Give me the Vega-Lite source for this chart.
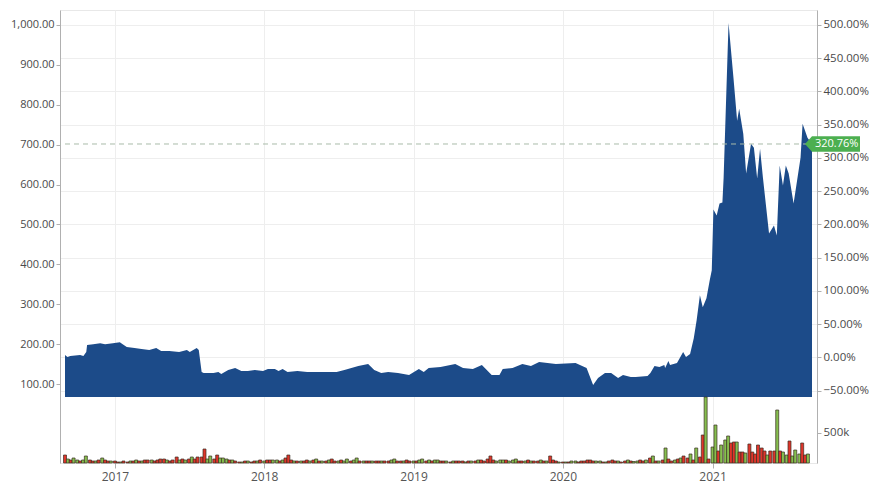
{
  "$schema": "https://vega.github.io/schema/vega-lite/v6.json",
  "width": 757,
  "height": 453,
  "autosize": {"type": "none"},
  "padding": {"left": 60, "top": 10, "right": 63, "bottom": 34},
  "background": "white",
  "config": {
    "axis": {"labelFont": "Open Sans", "labelColor": "#4a4a4a", "labelFontSize": 11, "domainColor": "#b0b0b0", "tickColor": "#b0b0b0", "gridColor": "#eeeeee", "tickSize": 4, "labelPadding": 2, "title": null},
    "view": {"stroke": "#e8e8e8"}
  },
  "datasets": {
    "prices": [
      {"date":"2016-09-01","price":172.5},{"date":"2016-09-07","price":167.5},{"date":"2016-09-14","price":170},{"date":"2016-10-08","price":172.5},{"date":"2016-10-16","price":170},{"date":"2016-10-23","price":180},{"date":"2016-10-25","price":197.5},{"date":"2016-11-09","price":200},{"date":"2016-11-26","price":202.5},{"date":"2016-12-08","price":200},{"date":"2016-12-27","price":202.5},{"date":"2017-01-13","price":205},{"date":"2017-01-20","price":200},{"date":"2017-01-30","price":192.5},{"date":"2017-02-18","price":190},{"date":"2017-03-07","price":187.5},{"date":"2017-03-26","price":185},{"date":"2017-04-12","price":190},{"date":"2017-04-24","price":182.5},{"date":"2017-05-14","price":182.5},{"date":"2017-06-07","price":180},{"date":"2017-06-26","price":185},{"date":"2017-07-03","price":180},{"date":"2017-07-20","price":190},{"date":"2017-07-25","price":185},{"date":"2017-08-01","price":130},{"date":"2017-08-06","price":127.5},{"date":"2017-08-30","price":127.5},{"date":"2017-09-11","price":130},{"date":"2017-09-18","price":125},{"date":"2017-10-05","price":135},{"date":"2017-10-22","price":140},{"date":"2017-11-06","price":132.5},{"date":"2017-11-22","price":132.5},{"date":"2017-12-09","price":135},{"date":"2017-12-29","price":132.5},{"date":"2018-01-10","price":137.5},{"date":"2018-01-27","price":137.5},{"date":"2018-02-05","price":132.5},{"date":"2018-02-15","price":137.5},{"date":"2018-02-27","price":130},{"date":"2018-03-23","price":132.5},{"date":"2018-04-16","price":130},{"date":"2018-05-10","price":130},{"date":"2018-06-03","price":130},{"date":"2018-06-27","price":130},{"date":"2018-07-16","price":135},{"date":"2018-08-02","price":140},{"date":"2018-08-19","price":145},{"date":"2018-09-12","price":150},{"date":"2018-09-27","price":135},{"date":"2018-10-14","price":127.5},{"date":"2018-10-31","price":130},{"date":"2018-11-24","price":127.5},{"date":"2018-12-21","price":122.5},{"date":"2019-01-14","price":137.5},{"date":"2019-01-26","price":130},{"date":"2019-02-07","price":140},{"date":"2019-03-08","price":142.5},{"date":"2019-04-13","price":150},{"date":"2019-05-02","price":140},{"date":"2019-05-26","price":137.5},{"date":"2019-06-17","price":147.5},{"date":"2019-06-29","price":135},{"date":"2019-07-11","price":122.5},{"date":"2019-07-30","price":122.5},{"date":"2019-08-07","price":137.5},{"date":"2019-08-31","price":140},{"date":"2019-09-24","price":150},{"date":"2019-10-15","price":145},{"date":"2019-11-04","price":155},{"date":"2019-12-15","price":150},{"date":"2020-02-01","price":152.5},{"date":"2020-02-28","price":140},{"date":"2020-03-15","price":97.5},{"date":"2020-03-27","price":115},{"date":"2020-04-13","price":127.5},{"date":"2020-04-28","price":127.5},{"date":"2020-05-15","price":115},{"date":"2020-05-27","price":122.5},{"date":"2020-06-15","price":117.5},{"date":"2020-06-27","price":117.5},{"date":"2020-07-26","price":120},{"date":"2020-08-02","price":127.5},{"date":"2020-08-12","price":145},{"date":"2020-08-24","price":142.5},{"date":"2020-09-05","price":147.5},{"date":"2020-09-07","price":140},{"date":"2020-09-15","price":157.5},{"date":"2020-09-19","price":147.5},{"date":"2020-10-06","price":152.5},{"date":"2020-10-21","price":180},{"date":"2020-10-28","price":167.5},{"date":"2020-11-07","price":175},{"date":"2020-11-16","price":215},{"date":"2020-11-23","price":260},{"date":"2020-12-01","price":322.5},{"date":"2020-12-08","price":292.5},{"date":"2020-12-17","price":315},{"date":"2020-12-25","price":360},{"date":"2020-12-30","price":385},{"date":"2021-01-03","price":537.5},{"date":"2021-01-11","price":522.5},{"date":"2021-01-18","price":552.5},{"date":"2021-01-25","price":555},{"date":"2021-01-28","price":617.5},{"date":"2021-02-09","price":1005},{"date":"2021-02-21","price":867.5},{"date":"2021-03-02","price":760},{"date":"2021-03-07","price":790},{"date":"2021-03-17","price":727.5},{"date":"2021-03-24","price":627.5},{"date":"2021-04-05","price":702.5},{"date":"2021-04-12","price":692.5},{"date":"2021-04-20","price":615},{"date":"2021-04-27","price":690},{"date":"2021-05-04","price":617.5},{"date":"2021-05-19","price":477.5},{"date":"2021-05-31","price":497.5},{"date":"2021-06-07","price":472.5},{"date":"2021-06-14","price":647.5},{"date":"2021-06-22","price":597.5},{"date":"2021-06-29","price":647.5},{"date":"2021-07-06","price":627.5},{"date":"2021-07-18","price":552.5},{"date":"2021-08-04","price":667.5},{"date":"2021-08-09","price":752.5},{"date":"2021-08-21","price":717.5},{"date":"2021-09-01","price":701.7}
    ],
    "last": [{"date":"2021-09-01","price":701.7,"label":"320.76%"}],
    "pctaxis": [{"pct":0}],
    "volumes": [
      {"date":"2016-09-01","vol":132000,"dir":"down"},{"date":"2016-09-08","vol":66000,"dir":"up"},{"date":"2016-09-15","vol":49500,"dir":"down"},{"date":"2016-09-22","vol":82500,"dir":"up"},
      {"date":"2016-10-01","vol":49500,"dir":"up"},{"date":"2016-10-08","vol":33000,"dir":"down"},{"date":"2016-10-15","vol":49500,"dir":"up"},{"date":"2016-10-22","vol":115500,"dir":"up"},
      {"date":"2016-11-01","vol":49500,"dir":"down"},{"date":"2016-11-08","vol":33000,"dir":"down"},{"date":"2016-11-15","vol":33000,"dir":"up"},{"date":"2016-11-22","vol":49500,"dir":"down"},
      {"date":"2016-12-01","vol":82500,"dir":"up"},{"date":"2016-12-08","vol":49500,"dir":"down"},{"date":"2016-12-15","vol":33000,"dir":"down"},{"date":"2016-12-22","vol":33000,"dir":"up"},
      {"date":"2017-01-01","vol":33000,"dir":"down"},{"date":"2017-01-08","vol":16500,"dir":"down"},{"date":"2017-01-15","vol":16500,"dir":"up"},{"date":"2017-01-22","vol":33000,"dir":"down"},
      {"date":"2017-02-01","vol":16500,"dir":"down"},{"date":"2017-02-08","vol":33000,"dir":"up"},{"date":"2017-02-15","vol":33000,"dir":"down"},{"date":"2017-02-22","vol":49500,"dir":"up"},
      {"date":"2017-03-01","vol":33000,"dir":"down"},{"date":"2017-03-08","vol":33000,"dir":"up"},{"date":"2017-03-15","vol":49500,"dir":"down"},{"date":"2017-03-22","vol":49500,"dir":"down"},
      {"date":"2017-04-01","vol":49500,"dir":"up"},{"date":"2017-04-08","vol":33000,"dir":"down"},{"date":"2017-04-15","vol":49500,"dir":"down"},{"date":"2017-04-22","vol":66000,"dir":"down"},
      {"date":"2017-05-01","vol":66000,"dir":"down"},{"date":"2017-05-08","vol":49500,"dir":"up"},{"date":"2017-05-15","vol":33000,"dir":"down"},{"date":"2017-05-22","vol":49500,"dir":"down"},
      {"date":"2017-06-01","vol":99000,"dir":"down"},{"date":"2017-06-08","vol":49500,"dir":"up"},{"date":"2017-06-15","vol":66000,"dir":"down"},{"date":"2017-06-22","vol":49500,"dir":"up"},
      {"date":"2017-07-01","vol":66000,"dir":"down"},{"date":"2017-07-08","vol":99000,"dir":"up"},{"date":"2017-07-15","vol":66000,"dir":"down"},{"date":"2017-07-22","vol":99000,"dir":"down"},
      {"date":"2017-08-01","vol":99000,"dir":"down"},{"date":"2017-08-08","vol":231000,"dir":"down"},{"date":"2017-08-15","vol":66000,"dir":"up"},{"date":"2017-08-22","vol":115500,"dir":"up"},
      {"date":"2017-09-01","vol":66000,"dir":"down"},{"date":"2017-09-08","vol":132000,"dir":"down"},{"date":"2017-09-15","vol":82500,"dir":"up"},{"date":"2017-09-22","vol":82500,"dir":"up"},
      {"date":"2017-10-01","vol":66000,"dir":"up"},{"date":"2017-10-08","vol":49500,"dir":"down"},{"date":"2017-10-15","vol":49500,"dir":"up"},{"date":"2017-10-22","vol":33000,"dir":"down"},
      {"date":"2017-11-01","vol":16500,"dir":"down"},{"date":"2017-11-08","vol":16500,"dir":"up"},{"date":"2017-11-15","vol":33000,"dir":"down"},{"date":"2017-11-22","vol":33000,"dir":"up"},
      {"date":"2017-12-01","vol":16500,"dir":"down"},{"date":"2017-12-08","vol":33000,"dir":"down"},{"date":"2017-12-15","vol":33000,"dir":"up"},{"date":"2017-12-22","vol":49500,"dir":"down"},
      {"date":"2018-01-01","vol":33000,"dir":"up"},{"date":"2018-01-08","vol":49500,"dir":"down"},{"date":"2018-01-15","vol":49500,"dir":"down"},{"date":"2018-01-22","vol":49500,"dir":"up"},
      {"date":"2018-02-01","vol":49500,"dir":"up"},{"date":"2018-02-08","vol":33000,"dir":"down"},{"date":"2018-02-15","vol":49500,"dir":"up"},{"date":"2018-02-22","vol":82500,"dir":"down"},
      {"date":"2018-03-01","vol":132000,"dir":"down"},{"date":"2018-03-08","vol":49500,"dir":"down"},{"date":"2018-03-15","vol":33000,"dir":"up"},{"date":"2018-03-22","vol":33000,"dir":"down"},
      {"date":"2018-04-01","vol":33000,"dir":"up"},{"date":"2018-04-08","vol":33000,"dir":"down"},{"date":"2018-04-15","vol":49500,"dir":"down"},{"date":"2018-04-22","vol":33000,"dir":"up"},
      {"date":"2018-05-01","vol":49500,"dir":"down"},{"date":"2018-05-08","vol":66000,"dir":"up"},{"date":"2018-05-15","vol":33000,"dir":"down"},{"date":"2018-05-22","vol":33000,"dir":"up"},
      {"date":"2018-06-01","vol":33000,"dir":"down"},{"date":"2018-06-08","vol":49500,"dir":"up"},{"date":"2018-06-15","vol":66000,"dir":"down"},{"date":"2018-06-22","vol":33000,"dir":"down"},
      {"date":"2018-07-01","vol":33000,"dir":"up"},{"date":"2018-07-08","vol":49500,"dir":"down"},{"date":"2018-07-15","vol":33000,"dir":"up"},{"date":"2018-07-22","vol":66000,"dir":"up"},
      {"date":"2018-08-01","vol":33000,"dir":"down"},{"date":"2018-08-08","vol":49500,"dir":"up"},{"date":"2018-08-15","vol":82500,"dir":"up"},{"date":"2018-08-22","vol":33000,"dir":"down"},
      {"date":"2018-09-01","vol":33000,"dir":"up"},{"date":"2018-09-08","vol":33000,"dir":"down"},{"date":"2018-09-15","vol":33000,"dir":"down"},{"date":"2018-09-22","vol":33000,"dir":"up"},
      {"date":"2018-10-01","vol":33000,"dir":"down"},{"date":"2018-10-08","vol":33000,"dir":"down"},{"date":"2018-10-15","vol":33000,"dir":"up"},{"date":"2018-10-22","vol":33000,"dir":"down"},
      {"date":"2018-11-01","vol":33000,"dir":"down"},{"date":"2018-11-08","vol":49500,"dir":"up"},{"date":"2018-11-15","vol":66000,"dir":"up"},{"date":"2018-11-22","vol":33000,"dir":"down"},
      {"date":"2018-12-01","vol":33000,"dir":"down"},{"date":"2018-12-08","vol":33000,"dir":"up"},{"date":"2018-12-15","vol":49500,"dir":"down"},{"date":"2018-12-22","vol":33000,"dir":"down"},
      {"date":"2019-01-01","vol":33000,"dir":"up"},{"date":"2019-01-08","vol":33000,"dir":"down"},{"date":"2019-01-15","vol":49500,"dir":"up"},{"date":"2019-01-22","vol":66000,"dir":"up"},
      {"date":"2019-02-01","vol":33000,"dir":"down"},{"date":"2019-02-08","vol":49500,"dir":"up"},{"date":"2019-02-15","vol":33000,"dir":"down"},{"date":"2019-02-22","vol":49500,"dir":"up"},
      {"date":"2019-03-01","vol":49500,"dir":"up"},{"date":"2019-03-08","vol":33000,"dir":"down"},{"date":"2019-03-15","vol":33000,"dir":"down"},{"date":"2019-03-22","vol":33000,"dir":"up"},
      {"date":"2019-04-01","vol":16500,"dir":"down"},{"date":"2019-04-08","vol":33000,"dir":"up"},{"date":"2019-04-15","vol":33000,"dir":"down"},{"date":"2019-04-22","vol":33000,"dir":"down"},
      {"date":"2019-05-01","vol":33000,"dir":"down"},{"date":"2019-05-08","vol":16500,"dir":"up"},{"date":"2019-05-15","vol":33000,"dir":"down"},{"date":"2019-05-22","vol":33000,"dir":"up"},
      {"date":"2019-06-01","vol":33000,"dir":"down"},{"date":"2019-06-08","vol":49500,"dir":"up"},{"date":"2019-06-15","vol":49500,"dir":"down"},{"date":"2019-06-22","vol":33000,"dir":"down"},
      {"date":"2019-07-01","vol":66000,"dir":"down"},{"date":"2019-07-08","vol":115500,"dir":"down"},{"date":"2019-07-15","vol":49500,"dir":"down"},{"date":"2019-07-22","vol":33000,"dir":"up"},
      {"date":"2019-08-01","vol":49500,"dir":"up"},{"date":"2019-08-08","vol":49500,"dir":"up"},{"date":"2019-08-15","vol":49500,"dir":"down"},{"date":"2019-08-22","vol":33000,"dir":"up"},
      {"date":"2019-09-01","vol":49500,"dir":"up"},{"date":"2019-09-08","vol":66000,"dir":"up"},{"date":"2019-09-15","vol":33000,"dir":"down"},{"date":"2019-09-22","vol":33000,"dir":"down"},
      {"date":"2019-10-01","vol":33000,"dir":"up"},{"date":"2019-10-08","vol":49500,"dir":"down"},{"date":"2019-10-15","vol":33000,"dir":"up"},{"date":"2019-10-22","vol":33000,"dir":"down"},
      {"date":"2019-11-01","vol":33000,"dir":"down"},{"date":"2019-11-08","vol":49500,"dir":"up"},{"date":"2019-11-15","vol":33000,"dir":"down"},{"date":"2019-11-22","vol":33000,"dir":"up"},
      {"date":"2019-12-01","vol":115500,"dir":"down"},{"date":"2019-12-08","vol":49500,"dir":"down"},{"date":"2019-12-15","vol":33000,"dir":"down"},{"date":"2019-12-22","vol":16500,"dir":"up"},
      {"date":"2020-01-01","vol":16500,"dir":"down"},{"date":"2020-01-08","vol":16500,"dir":"up"},{"date":"2020-01-15","vol":16500,"dir":"down"},{"date":"2020-01-22","vol":33000,"dir":"up"},
      {"date":"2020-02-01","vol":33000,"dir":"up"},{"date":"2020-02-08","vol":16500,"dir":"down"},{"date":"2020-02-15","vol":33000,"dir":"down"},{"date":"2020-02-22","vol":33000,"dir":"down"},
      {"date":"2020-03-01","vol":49500,"dir":"down"},{"date":"2020-03-08","vol":49500,"dir":"down"},{"date":"2020-03-15","vol":33000,"dir":"down"},{"date":"2020-03-22","vol":33000,"dir":"up"},
      {"date":"2020-04-01","vol":33000,"dir":"up"},{"date":"2020-04-08","vol":16500,"dir":"down"},{"date":"2020-04-15","vol":16500,"dir":"up"},{"date":"2020-04-22","vol":33000,"dir":"down"},
      {"date":"2020-05-01","vol":49500,"dir":"down"},{"date":"2020-05-08","vol":33000,"dir":"down"},{"date":"2020-05-15","vol":33000,"dir":"up"},{"date":"2020-05-22","vol":16500,"dir":"down"},
      {"date":"2020-06-01","vol":33000,"dir":"down"},{"date":"2020-06-08","vol":49500,"dir":"up"},{"date":"2020-06-15","vol":33000,"dir":"down"},{"date":"2020-06-22","vol":24750,"dir":"up"},
      {"date":"2020-07-01","vol":33000,"dir":"up"},{"date":"2020-07-08","vol":49500,"dir":"down"},{"date":"2020-07-15","vol":33000,"dir":"down"},{"date":"2020-07-22","vol":49500,"dir":"up"},
      {"date":"2020-08-01","vol":82500,"dir":"down"},{"date":"2020-08-08","vol":115500,"dir":"up"},{"date":"2020-08-15","vol":33000,"dir":"down"},{"date":"2020-08-22","vol":33000,"dir":"up"},
      {"date":"2020-09-01","vol":49500,"dir":"down"},{"date":"2020-09-08","vol":247500,"dir":"up"},{"date":"2020-09-15","vol":66000,"dir":"down"},{"date":"2020-09-22","vol":33000,"dir":"down"},
      {"date":"2020-10-01","vol":49500,"dir":"up"},{"date":"2020-10-08","vol":66000,"dir":"down"},{"date":"2020-10-15","vol":82500,"dir":"up"},{"date":"2020-10-22","vol":115500,"dir":"down"},
      {"date":"2020-11-01","vol":82500,"dir":"down"},{"date":"2020-11-08","vol":148500,"dir":"up"},{"date":"2020-11-15","vol":49500,"dir":"down"},{"date":"2020-11-22","vol":247500,"dir":"up"},
      {"date":"2020-12-01","vol":99000,"dir":"down"},{"date":"2020-12-08","vol":462000,"dir":"down"},{"date":"2020-12-15","vol":1089000,"dir":"up"},{"date":"2020-12-22","vol":66000,"dir":"down"},
      {"date":"2021-01-01","vol":264000,"dir":"up"},{"date":"2021-01-08","vol":627000,"dir":"up"},{"date":"2021-01-15","vol":198000,"dir":"down"},{"date":"2021-01-22","vol":297000,"dir":"up"},
      {"date":"2021-02-01","vol":379500,"dir":"up"},{"date":"2021-02-08","vol":445500,"dir":"up"},{"date":"2021-02-15","vol":330000,"dir":"down"},{"date":"2021-02-22","vol":346500,"dir":"down"},
      {"date":"2021-03-01","vol":346500,"dir":"up"},{"date":"2021-03-08","vol":181500,"dir":"down"},{"date":"2021-03-15","vol":181500,"dir":"down"},{"date":"2021-03-22","vol":165000,"dir":"up"},
      {"date":"2021-04-01","vol":313500,"dir":"down"},{"date":"2021-04-08","vol":181500,"dir":"down"},{"date":"2021-04-15","vol":148500,"dir":"down"},{"date":"2021-04-22","vol":297000,"dir":"down"},
      {"date":"2021-05-01","vol":247500,"dir":"down"},{"date":"2021-05-08","vol":198000,"dir":"down"},{"date":"2021-05-15","vol":132000,"dir":"up"},{"date":"2021-05-22","vol":198000,"dir":"down"},
      {"date":"2021-06-01","vol":198000,"dir":"down"},{"date":"2021-06-08","vol":874500,"dir":"up"},{"date":"2021-06-15","vol":198000,"dir":"down"},{"date":"2021-06-22","vol":181500,"dir":"up"},
      {"date":"2021-07-01","vol":132000,"dir":"up"},{"date":"2021-07-08","vol":363000,"dir":"down"},{"date":"2021-07-15","vol":115500,"dir":"up"},{"date":"2021-07-22","vol":214500,"dir":"up"},
      {"date":"2021-08-01","vol":148500,"dir":"up"},{"date":"2021-08-08","vol":330000,"dir":"down"},{"date":"2021-08-15","vol":132000,"dir":"down"},{"date":"2021-08-22","vol":148500,"dir":"up"}
    ]
  },
  "layer": [
    {
      "layer": [
        {
          "data": {"name": "prices"},
          "mark": {"type": "area", "color": "#1c4b89", "interpolate": "linear"},
          "encoding": {
            "x": {"field": "date", "type": "temporal", "scale": {"domain": ["2016-09-01", "2021-09-01"]}, "axis": {"format": "%Y", "tickCount": "year", "grid": true, "labelFontSize": 12, "labelColor": "#555555", "tickSize": 5, "labelPadding": 3, "domain": false}},
            "y": {"field": "price", "type": "quantitative", "scale": {"domain": [-98, 1037.6], "nice": false, "zero": false}, "axis": {"orient": "left", "values": [100, 200, 300, 400, 500, 600, 700, 800, 900, 1000], "format": ",.2f", "grid": false}},
            "y2": {"datum": 67.4}
          }
        },
        {
          "data": {"name": "last"},
          "mark": {"type": "rule", "strokeDash": [5, 4], "color": "#a9bba9", "strokeWidth": 1},
          "encoding": {"y": {"field": "price", "type": "quantitative"}}
        },
        {
          "data": {"name": "last"},
          "mark": {"type": "point", "shape": "M-0.28,0 L0,-0.31 L1.92,-0.31 L1.92,0.31 L0,0.31 Z", "size": 2500, "filled": true, "color": "#4caf50", "opacity": 1, "strokeWidth": 0},
          "encoding": {"x": {"field": "date", "type": "temporal"}, "y": {"field": "price", "type": "quantitative"}}
        },
        {
          "data": {"name": "last"},
          "mark": {"type": "text", "align": "left", "baseline": "middle", "dx": 3, "color": "white", "font": "Open Sans", "fontSize": 11},
          "encoding": {"x": {"field": "date", "type": "temporal"}, "y": {"field": "price", "type": "quantitative"}, "text": {"field": "label"}}
        }
      ]
    },
    {
      "data": {"name": "pctaxis"},
      "mark": {"type": "point", "opacity": 0},
      "encoding": {
        "y": {"field": "pct", "type": "quantitative", "scale": {"domain": [-1.5876, 5.2218], "nice": false, "zero": false}, "axis": {"orient": "right", "values": [-0.5, 0, 0.5, 1, 1.5, 2, 2.5, 3, 3.5, 4, 4.5, 5], "format": ".2%", "grid": true, "labelFontSize": 11.5}}
      }
    },
    {
      "data": {"name": "volumes"},
      "mark": {"type": "bar", "width": 3, "stroke": "#3a2e22", "strokeWidth": 0.7},
      "encoding": {
        "x": {"field": "date", "type": "temporal"},
        "y": {"field": "vol", "type": "quantitative", "scale": {"domain": [0, 7475000], "nice": false}, "axis": {"orient": "right", "values": [500000], "labelExpr": "format(datum.value / 1000, 'd') + 'k'", "grid": false, "domain": false, "labelFontSize": 11.5}},
        "color": {"field": "dir", "type": "nominal", "scale": {"domain": ["up", "down"], "range": ["#86bf4e", "#e0352b"]}, "legend": null}
      }
    }
  ],
  "resolve": {"scale": {"y": "independent"}, "axis": {"y": "independent"}}
}
